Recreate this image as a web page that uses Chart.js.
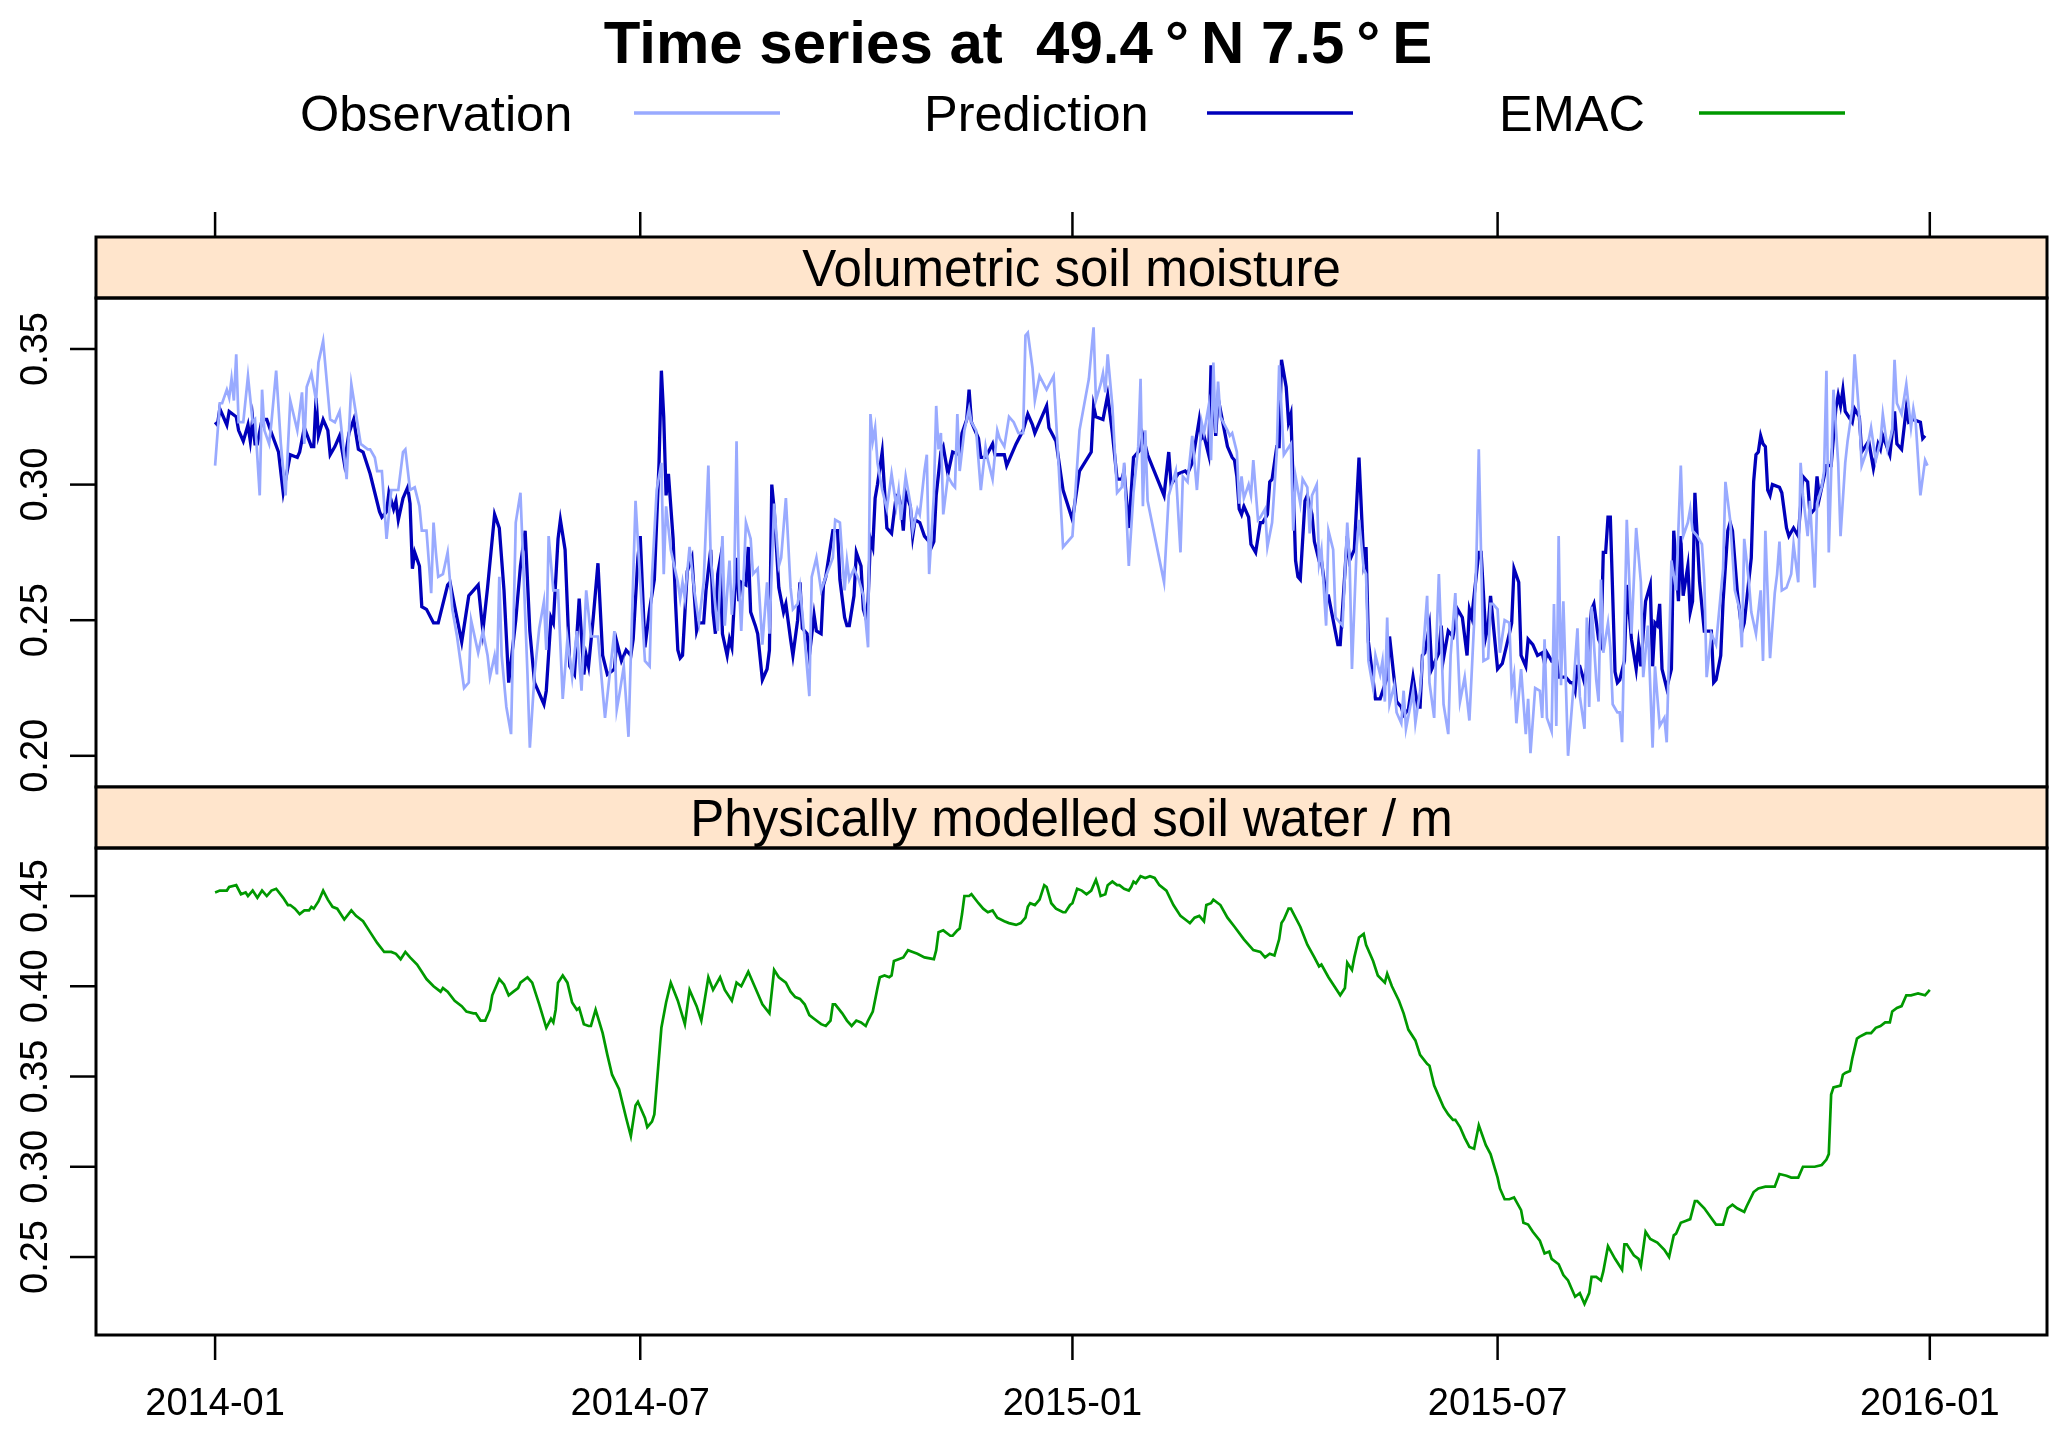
<!DOCTYPE html>
<html>
<head>
<meta charset="utf-8">
<title>Time series at 49.4°N 7.5°E</title>
<script src="https://cdn.jsdelivr.net/npm/chart.js@4.4.1/dist/chart.umd.min.js"></script>
<style>
  html, body { margin: 0; padding: 0; background: #fff; }
  #wrap { position: relative; width: 2067px; height: 1433px; }
  #wrap canvas { position: absolute; left: 0; top: 0; }
</style>
</head>
<body>
<div id="wrap">
  <canvas id="topPanel" width="2067" height="1433"></canvas>
  <canvas id="bottomPanel" width="2067" height="1433"></canvas>
</div>
<script>
// days since 2014-01-01
var xTickDays = [0, 181, 365, 546, 730];
var xTickLabels = ['2014-01', '2014-07', '2015-01', '2015-07', '2016-01'];
var topYTicks = [0.20, 0.25, 0.30, 0.35];
var bottomYTicks = [0.25, 0.30, 0.35, 0.40, 0.45];
var seriesNames = ['Observation', 'Prediction', 'EMAC'];
var panelTitles = ['Volumetric soil moisture', 'Physically modelled soil water / m'];
var mainTitle = 'Time series at  49.4\u2009°\u2009N 7.5\u2009°\u2009E';

// volumetric soil moisture, observed  [day, value]
var observation = [
  [0,0.307],[2,0.330],[3,0.330],[5,0.335],[6,0.332],[7,0.339],[8,0.331],[9,0.348],[10,0.323],[12,0.323],
  [14,0.340],[16,0.323],[17,0.324],[19,0.296],[20,0.335],[21,0.320],[23,0.315],[24,0.323],[26,0.342],[28,0.315],
  [30,0.296],[32,0.331],[35,0.320],[37,0.334],[38,0.315],[39,0.336],[41,0.341],[43,0.331],[44,0.345],[46,0.353],
  [49,0.324],[51,0.323],[53,0.327],[56,0.302],[58,0.337],[60,0.326],[62,0.315],[65,0.313],[66,0.313],[68,0.310],
  [69,0.305],[71,0.305],[73,0.280],[75,0.298],[76,0.298],[78,0.298],[80,0.312],[81,0.313],[83,0.298],[85,0.299],
  [87,0.292],[88,0.283],[90,0.283],[92,0.260],[93,0.286],[94,0.275],[95,0.266],[97,0.267],[99,0.275],[101,0.254],
  [103,0.244],[106,0.225],[108,0.227],[109,0.250],[112,0.238],[114,0.246],[116,0.237],[117,0.229],[119,0.237],[120,0.230],
  [121,0.266],[122,0.237],[124,0.218],[126,0.208],[128,0.286],[130,0.297],[133,0.230],[134,0.203],[136,0.230],[138,0.247],
  [140,0.257],[141,0.239],[142,0.281],[144,0.261],[146,0.261],[148,0.221],[150,0.243],[152,0.229],[154,0.246],[156,0.224],
  [158,0.261],[160,0.244],[163,0.244],[166,0.214],[170,0.246],[171,0.217],[172,0.222],[174,0.233],[176,0.207],[177,0.237],
  [179,0.294],[181,0.264],[183,0.235],[185,0.233],[186,0.266],[188,0.298],[190,0.308],[191,0.267],[192,0.292],[194,0.276],
  [197,0.264],[198,0.258],[199,0.264],[200,0.258],[202,0.277],[204,0.261],[206,0.249],[208,0.264],[210,0.307],[211,0.273],
  [214,0.246],[216,0.281],[217,0.248],[219,0.272],[220,0.252],[221,0.264],[222,0.316],[223,0.264],[224,0.246],[226,0.286],
  [228,0.280],[229,0.267],[231,0.269],[233,0.241],[235,0.264],[236,0.245],[238,0.293],[240,0.270],[241,0.273],[243,0.295],
  [245,0.262],[246,0.254],[248,0.256],[249,0.262],[251,0.243],[253,0.222],[254,0.266],[256,0.273],[258,0.261],[260,0.266],
  [263,0.273],[264,0.287],[266,0.286],[268,0.261],[269,0.272],[270,0.265],[272,0.269],[274,0.265],[276,0.259],[278,0.240],
  [279,0.326],[280,0.316],[281,0.321],[282,0.308],[284,0.298],[286,0.291],[288,0.304],[290,0.292],[291,0.298],[292,0.287],
  [294,0.303],[296,0.293],[297,0.283],[299,0.291],[300,0.289],[302,0.305],[303,0.311],[304,0.267],[306,0.296],[307,0.329],
  [308,0.313],[309,0.319],[310,0.289],[312,0.303],[314,0.300],[315,0.299],[316,0.326],[317,0.305],[319,0.320],[321,0.328],
  [322,0.323],[324,0.320],[326,0.298],[328,0.314],[329,0.309],[331,0.302],[333,0.320],[334,0.317],[336,0.314],[338,0.325],
  [340,0.323],[342,0.319],[344,0.319],[345,0.355],[346,0.356],[348,0.343],[349,0.331],[351,0.340],[354,0.335],[357,0.340],
  [359,0.309],[361,0.277],[365,0.281],[368,0.320],[372,0.339],[374,0.358],[375,0.331],[377,0.337],[378,0.341],[379,0.334],
  [380,0.348],[382,0.329],[384,0.297],[386,0.299],[387,0.308],[389,0.270],[391,0.297],[393,0.314],[394,0.339],[395,0.292],
  [396,0.320],[397,0.294],[404,0.264],[406,0.296],[409,0.305],[411,0.275],[412,0.303],[414,0.301],[416,0.318],[418,0.298],
  [420,0.323],[421,0.319],[423,0.329],[424,0.309],[425,0.345],[426,0.319],[427,0.338],[428,0.325],[431,0.320],[432,0.318],
  [433,0.319],[435,0.312],[436,0.293],[437,0.303],[438,0.295],[440,0.300],[441,0.296],[442,0.309],[444,0.287],[445,0.288],
  [447,0.291],[448,0.277],[450,0.286],[452,0.312],[453,0.344],[455,0.311],[458,0.315],[459,0.283],[460,0.303],[462,0.293],
  [463,0.302],[465,0.299],[466,0.282],[467,0.296],[469,0.300],[470,0.271],[471,0.276],[473,0.248],[474,0.283],[476,0.276],
  [477,0.251],[480,0.248],[482,0.286],[483,0.272],[484,0.232],[486,0.277],[487,0.287],[489,0.269],[490,0.267],[491,0.235],
  [493,0.225],[494,0.237],[496,0.230],[497,0.235],[498,0.220],[499,0.251],[500,0.219],[502,0.226],[503,0.216],[505,0.212],
  [506,0.224],[507,0.210],[509,0.219],[510,0.224],[511,0.212],[513,0.224],[514,0.235],[516,0.259],[517,0.227],[519,0.214],
  [520,0.243],[521,0.267],[523,0.219],[525,0.208],[526,0.237],[528,0.260],[530,0.220],[532,0.229],[534,0.213],[536,0.249],
  [537,0.273],[538,0.313],[539,0.273],[540,0.235],[542,0.236],[543,0.256],[544,0.256],[546,0.254],[547,0.238],[549,0.250],
  [551,0.249],[552,0.225],[553,0.230],[554,0.212],[556,0.232],[558,0.208],[559,0.221],[560,0.201],[562,0.225],[564,0.224],
  [565,0.214],[566,0.243],[567,0.214],[569,0.209],[570,0.256],[571,0.211],[572,0.281],[573,0.226],[574,0.257],[576,0.200],
  [578,0.222],[580,0.247],[581,0.222],[583,0.210],[584,0.251],[585,0.218],[586,0.255],[588,0.228],[589,0.220],[590,0.265],
  [591,0.238],[593,0.249],[594,0.240],[595,0.219],[597,0.216],[598,0.216],[599,0.205],[601,0.287],[603,0.245],[605,0.284],
  [607,0.264],[608,0.229],[610,0.248],[612,0.203],[613,0.233],[615,0.211],[617,0.214],[618,0.205],[620,0.272],[622,0.261],
  [624,0.307],[625,0.281],[627,0.286],[628,0.291],[629,0.283],[631,0.281],[633,0.278],[634,0.265],[635,0.229],[637,0.245],
  [639,0.241],[642,0.269],[643,0.301],[645,0.287],[647,0.261],[649,0.254],[650,0.240],[651,0.280],[653,0.264],[654,0.253],
  [656,0.245],[658,0.261],[659,0.235],[660,0.283],[662,0.236],[664,0.260],[665,0.267],[666,0.279],[667,0.261],[669,0.262],
  [671,0.267],[672,0.278],[674,0.264],[675,0.308],[676,0.296],[678,0.281],[679,0.294],[681,0.262],[682,0.293],[684,0.299],
  [685,0.305],[686,0.342],[687,0.275],[688,0.304],[689,0.335],[691,0.308],[692,0.281],[694,0.308],[695,0.316],[697,0.328],
  [698,0.348],[700,0.325],[701,0.307],[703,0.312],[705,0.321],[707,0.309],[709,0.316],[710,0.326],[712,0.313],[714,0.320],
  [715,0.346],[716,0.330],[718,0.326],[720,0.337],[722,0.321],[723,0.328],[724,0.323],[726,0.296],[728,0.309],[729,0.307]
];

// volumetric soil moisture, predicted  [day, value]
var prediction = [
  [0,0.323],[1,0.322],[2,0.328],[4,0.324],[5,0.322],[6,0.327],[9,0.325],[10,0.320],[12,0.316],[14,0.322],
  [15,0.316],[16,0.324],[17,0.315],[18,0.315],[20,0.324],[22,0.324],[24,0.319],[27,0.312],[29,0.297],[32,0.311],
  [35,0.310],[36,0.312],[38,0.321],[41,0.314],[42,0.314],[43,0.332],[44,0.318],[46,0.324],[48,0.320],[49,0.311],
  [51,0.314],[53,0.318],[55,0.308],[57,0.319],[59,0.324],[61,0.313],[63,0.312],[66,0.304],[68,0.297],[70,0.290],
  [71,0.288],[73,0.290],[74,0.297],[76,0.291],[77,0.294],[78,0.287],[80,0.295],[82,0.299],[83,0.293],[84,0.269],
  [85,0.275],[87,0.270],[88,0.255],[90,0.254],[93,0.249],[95,0.249],[99,0.263],[100,0.264],[102,0.255],[105,0.242],
  [108,0.259],[110,0.261],[112,0.263],[114,0.246],[116,0.262],[119,0.289],[121,0.284],[123,0.261],[125,0.227],[128,0.250],
  [130,0.270],[132,0.283],[134,0.246],[136,0.227],[140,0.219],[141,0.224],[143,0.251],[144,0.249],[146,0.280],[147,0.287],
  [149,0.276],[151,0.233],[153,0.230],[155,0.258],[157,0.230],[158,0.237],[159,0.233],[161,0.251],[163,0.271],[165,0.237],
  [167,0.230],[170,0.232],[171,0.242],[173,0.235],[175,0.239],[177,0.237],[178,0.243],[180,0.273],[181,0.281],[183,0.240],
  [185,0.254],[187,0.265],[189,0.308],[190,0.342],[191,0.325],[192,0.296],[193,0.304],[195,0.280],[196,0.257],[197,0.239],
  [198,0.236],[199,0.237],[201,0.268],[203,0.273],[205,0.246],[206,0.249],[208,0.249],[209,0.261],[211,0.276],[212,0.253],
  [213,0.245],[214,0.267],[215,0.272],[216,0.245],[218,0.237],[219,0.243],[220,0.240],[222,0.273],[223,0.257],[224,0.264],
  [226,0.263],[227,0.277],[228,0.253],[230,0.248],[231,0.245],[233,0.228],[235,0.232],[236,0.239],[237,0.300],[238,0.291],
  [240,0.262],[242,0.253],[243,0.256],[245,0.243],[246,0.237],[248,0.250],[249,0.264],[250,0.247],[252,0.245],[253,0.237],
  [255,0.252],[256,0.246],[258,0.245],[259,0.263],[260,0.266],[263,0.283],[265,0.283],[266,0.265],[268,0.251],[269,0.248],
  [270,0.248],[272,0.259],[273,0.275],[275,0.270],[276,0.254],[277,0.251],[278,0.257],[279,0.280],[280,0.277],[281,0.295],
  [282,0.300],[284,0.312],[286,0.284],[288,0.282],[290,0.296],[291,0.296],[292,0.292],[293,0.283],[294,0.297],[296,0.292],
  [297,0.281],[298,0.287],[300,0.286],[302,0.281],[304,0.279],[305,0.277],[306,0.279],[307,0.296],[309,0.312],[310,0.314],
  [312,0.304],[314,0.312],[317,0.311],[318,0.319],[320,0.324],[321,0.335],[322,0.323],[325,0.317],[326,0.310],[328,0.310],
  [331,0.315],[332,0.311],[334,0.311],[336,0.311],[337,0.307],[341,0.315],[344,0.320],[346,0.326],[348,0.322],[349,0.319],
  [351,0.323],[354,0.329],[355,0.321],[358,0.316],[361,0.298],[365,0.287],[368,0.305],[373,0.312],[374,0.329],[375,0.325],
  [378,0.324],[380,0.333],[382,0.319],[384,0.302],[386,0.302],[387,0.305],[389,0.284],[391,0.310],[394,0.313],[395,0.318],
  [397,0.311],[404,0.296],[406,0.312],[407,0.300],[410,0.304],[413,0.305],[414,0.304],[416,0.308],[419,0.324],[420,0.317],
  [421,0.318],[423,0.311],[424,0.344],[426,0.318],[427,0.332],[429,0.323],[431,0.314],[433,0.310],[434,0.309],[435,0.303],
  [436,0.291],[437,0.289],[438,0.292],[440,0.288],[441,0.278],[443,0.275],[445,0.286],[446,0.286],[448,0.289],[449,0.301],
  [450,0.302],[452,0.314],[453,0.314],[454,0.346],[456,0.336],[457,0.323],[458,0.326],[460,0.272],[461,0.266],[462,0.265],
  [464,0.294],[465,0.296],[467,0.289],[468,0.279],[470,0.272],[471,0.272],[473,0.259],[474,0.259],[478,0.241],[479,0.241],
  [482,0.281],[483,0.272],[485,0.276],[487,0.310],[489,0.272],[490,0.277],[491,0.242],[494,0.221],[496,0.221],[499,0.229],
  [500,0.244],[503,0.220],[505,0.218],[506,0.215],[508,0.217],[510,0.229],[512,0.218],[513,0.218],[514,0.237],[515,0.238],
  [517,0.248],[518,0.232],[521,0.238],[522,0.248],[523,0.236],[525,0.246],[527,0.244],[529,0.254],[531,0.251],[533,0.237],
  [534,0.254],[535,0.251],[538,0.275],[539,0.275],[541,0.244],[542,0.248],[543,0.259],[546,0.232],[548,0.234],[551,0.245],
  [552,0.249],[553,0.269],[555,0.264],[556,0.237],[558,0.233],[559,0.243],[561,0.241],[563,0.237],[565,0.238],[566,0.234],
  [567,0.238],[569,0.235],[571,0.236],[572,0.229],[575,0.229],[577,0.227],[578,0.227],[579,0.224],[580,0.233],[581,0.233],
  [583,0.227],[584,0.233],[586,0.254],[587,0.256],[589,0.243],[590,0.241],[591,0.275],[592,0.275],[593,0.288],[594,0.288],
  [596,0.231],[597,0.227],[598,0.228],[600,0.235],[601,0.263],[603,0.243],[605,0.232],[606,0.241],[607,0.233],[609,0.257],
  [611,0.263],[612,0.233],[613,0.249],[614,0.248],[615,0.256],[616,0.232],[618,0.225],[620,0.232],[621,0.283],[623,0.257],
  [624,0.281],[625,0.259],[627,0.270],[628,0.253],[629,0.257],[630,0.297],[632,0.264],[634,0.246],[637,0.246],[638,0.227],
  [639,0.228],[641,0.237],[642,0.257],[644,0.283],[645,0.286],[646,0.283],[648,0.261],[650,0.246],[651,0.249],[654,0.273],
  [655,0.301],[656,0.311],[657,0.312],[658,0.318],[659,0.315],[660,0.314],[661,0.298],[662,0.296],[663,0.300],[666,0.299],
  [667,0.297],[669,0.284],[670,0.281],[672,0.284],[674,0.281],[676,0.303],[678,0.301],[679,0.289],[681,0.291],[682,0.303],
  [683,0.295],[686,0.307],[688,0.307],[690,0.328],[691,0.333],[692,0.329],[693,0.335],[694,0.327],[697,0.323],[698,0.328],
  [700,0.325],[701,0.312],[704,0.316],[706,0.306],[708,0.315],[709,0.313],[710,0.318],[713,0.311],[715,0.327],[716,0.315],
  [718,0.313],[720,0.328],[721,0.323],[723,0.324],[726,0.323],[727,0.317],[728,0.318]
];

// EMAC physically modelled soil water / m  [day, value]
var emac = [
  [0,0.452],[2,0.453],[5,0.453],[6,0.455],[9,0.456],[11,0.451],[13,0.452],[14,0.450],[16,0.453],[18,0.449],
  [20,0.453],[22,0.450],[24,0.453],[26,0.454],[29,0.449],[31,0.445],[32,0.445],[34,0.443],[36,0.440],[38,0.442],
  [40,0.442],[41,0.444],[42,0.443],[44,0.447],[46,0.453],[48,0.448],[50,0.444],[52,0.443],[55,0.437],[58,0.442],
  [60,0.439],[63,0.436],[66,0.430],[69,0.424],[72,0.419],[75,0.419],[77,0.418],[79,0.415],[81,0.419],[83,0.416],
  [86,0.412],[88,0.408],[90,0.404],[93,0.400],[96,0.397],[97,0.399],[99,0.397],[102,0.392],[105,0.389],[107,0.386],
  [110,0.385],[111,0.385],[113,0.381],[115,0.381],[117,0.387],[118,0.395],[121,0.404],[123,0.401],[125,0.395],[127,0.397],
  [129,0.399],[130,0.402],[133,0.405],[135,0.402],[138,0.390],[141,0.377],[143,0.382],[144,0.380],[145,0.387],[146,0.402],
  [148,0.406],[150,0.402],[152,0.391],[154,0.387],[155,0.388],[157,0.379],[159,0.378],[160,0.378],[162,0.387],[165,0.374],
  [167,0.362],[169,0.351],[172,0.343],[175,0.327],[177,0.317],[179,0.334],[180,0.336],[183,0.327],[184,0.322],[186,0.325],
  [187,0.329],[190,0.377],[192,0.391],[194,0.402],[197,0.392],[200,0.379],[202,0.398],[205,0.389],[207,0.381],[210,0.405],
  [212,0.398],[215,0.405],[217,0.398],[220,0.392],[222,0.402],[224,0.400],[227,0.408],[230,0.399],[233,0.390],[236,0.385],
  [238,0.409],[240,0.405],[243,0.402],[245,0.397],[247,0.394],[249,0.393],[251,0.390],[253,0.384],[255,0.382],[258,0.379],
  [260,0.378],[262,0.381],[263,0.390],[264,0.390],[267,0.385],[269,0.381],[271,0.378],[273,0.381],[275,0.380],[277,0.378],
  [278,0.381],[280,0.386],[282,0.399],[283,0.405],[285,0.406],[287,0.405],[288,0.406],[289,0.414],[291,0.415],[293,0.416],
  [295,0.420],[297,0.419],[299,0.418],[302,0.416],[306,0.415],[307,0.420],[308,0.430],[310,0.431],[313,0.428],[314,0.428],
  [316,0.431],[317,0.432],[318,0.440],[319,0.450],[321,0.450],[322,0.451],[325,0.446],[327,0.443],[329,0.441],[331,0.442],
  [333,0.438],[336,0.436],[338,0.435],[341,0.434],[343,0.435],[345,0.438],[346,0.444],[347,0.446],[349,0.445],[351,0.448],
  [353,0.456],[354,0.455],[356,0.446],[358,0.443],[361,0.441],[362,0.441],[364,0.445],[365,0.446],[367,0.454],[369,0.453],
  [371,0.451],[373,0.453],[375,0.459],[376,0.455],[377,0.450],[379,0.451],[380,0.456],[382,0.458],[384,0.456],[385,0.456],
  [387,0.454],[389,0.453],[390,0.455],[391,0.458],[392,0.457],[394,0.461],[396,0.460],[398,0.461],[400,0.460],[402,0.456],
  [405,0.453],[408,0.445],[411,0.439],[414,0.436],[415,0.435],[417,0.438],[419,0.439],[421,0.436],[422,0.445],[424,0.446],
  [425,0.448],[428,0.445],[431,0.438],[434,0.433],[438,0.426],[442,0.420],[445,0.419],[447,0.416],[449,0.418],[451,0.417],
  [453,0.426],[454,0.435],[455,0.437],[457,0.443],[458,0.443],[462,0.433],[465,0.423],[468,0.416],[470,0.411],[471,0.412],
  [474,0.405],[479,0.395],[481,0.399],[482,0.413],[484,0.409],[485,0.416],[487,0.427],[489,0.429],[490,0.423],[493,0.414],
  [495,0.406],[498,0.402],[499,0.407],[501,0.400],[504,0.392],[506,0.385],[508,0.376],[511,0.370],[513,0.362],[516,0.357],
  [517,0.356],[519,0.345],[521,0.339],[523,0.333],[525,0.329],[527,0.326],[528,0.326],[530,0.322],[532,0.316],[534,0.311],
  [536,0.310],[538,0.323],[541,0.312],[543,0.307],[546,0.294],[547,0.288],[549,0.282],[551,0.282],[553,0.283],[556,0.276],
  [557,0.269],[559,0.268],[561,0.264],[564,0.259],[566,0.252],[568,0.253],[569,0.249],[572,0.246],[574,0.240],[576,0.237],
  [579,0.228],[581,0.230],[583,0.224],[585,0.230],[586,0.239],[588,0.239],[590,0.237],[591,0.242],[593,0.256],[596,0.249],
  [599,0.243],[600,0.257],[601,0.257],[604,0.251],[606,0.249],[607,0.245],[609,0.264],[611,0.260],[614,0.258],[617,0.254],
  [619,0.250],[621,0.262],[622,0.263],[624,0.269],[626,0.270],[628,0.271],[630,0.281],[631,0.281],[634,0.277],[639,0.268],
  [642,0.268],[644,0.277],[646,0.279],[648,0.277],[651,0.275],[652,0.278],[655,0.286],[657,0.288],[660,0.289],[664,0.289],
  [666,0.296],[669,0.295],[671,0.294],[674,0.294],[676,0.300],[679,0.300],[681,0.300],[684,0.301],[686,0.304],[687,0.307],
  [688,0.340],[689,0.344],[692,0.345],[693,0.351],[694,0.352],[696,0.353],[697,0.360],[699,0.371],[700,0.372],[703,0.374],
  [705,0.374],[707,0.377],[709,0.378],[711,0.380],[713,0.380],[714,0.386],[716,0.388],[718,0.389],[720,0.395],[722,0.395],
  [725,0.396],[728,0.395],[730,0.398]
];

var FONT = '"Liberation Sans", Arial, Helvetica, sans-serif';
var colObs = '#99AAFF';
var colPred = '#0000BB';
var colEmac = '#009900';
var stripFill = '#FFE5CC';

function toPoints(arr) {
  return arr.map(function (p) { return { x: p[0], y: p[1] }; });
}

function seg(ctx, x1, y1, x2, y2) {
  ctx.beginPath();
  ctx.moveTo(x1, y1);
  ctx.lineTo(x2, y2);
  ctx.stroke();
}

// lattice style panel: strip above, box, left ticks with rotated labels
function latticePanel(opt) {
  return {
    id: 'latticePanel',
    afterDraw: function (chart) {
      var ctx = chart.ctx, a = chart.chartArea;
      var xs = chart.scales.x, ys = chart.scales.y;
      var w = a.right - a.left;
      var stripH = 61;
      var st = a.top - stripH;
      ctx.save();

      // strip
      ctx.fillStyle = stripFill;
      ctx.fillRect(a.left, st, w, stripH);
      ctx.strokeStyle = '#000';
      ctx.lineWidth = 3;
      ctx.strokeRect(a.left, st, w, stripH);
      ctx.fillStyle = '#000';
      ctx.font = '51px ' + FONT;
      ctx.textAlign = 'center';
      ctx.textBaseline = 'alphabetic';
      ctx.fillText(opt.strip, (a.left + a.right) / 2, st + stripH / 2 + 18.5);

      // panel box
      ctx.strokeRect(a.left, a.top, w, a.bottom - a.top);

      // y ticks + vertical labels
      ctx.lineWidth = 2.5;
      ctx.font = '38px ' + FONT;
      opt.yTicks.forEach(function (v) {
        var y = ys.getPixelForValue(v);
        seg(ctx, a.left - 26, y, a.left, y);
        ctx.save();
        ctx.translate(a.left - 49, y);
        ctx.rotate(-Math.PI / 2);
        ctx.textAlign = 'center';
        ctx.fillText(v.toFixed(2), 0, 0);
        ctx.restore();
      });

      // ticks above the top strip
      if (opt.topTicks) {
        xTickDays.forEach(function (d) {
          var x = xs.getPixelForValue(d);
          seg(ctx, x, st - 25, x, st);
        });
      }

      // bottom ticks and labels
      if (opt.bottomAxis) {
        ctx.textAlign = 'center';
        xTickDays.forEach(function (d, i) {
          var x = xs.getPixelForValue(d);
          seg(ctx, x, a.bottom, x, a.bottom + 25);
          ctx.fillText(xTickLabels[i], x, a.bottom + 80);
        });
      }

      // main title and key
      if (opt.header) {
        ctx.font = 'bold 60px ' + FONT;
        ctx.textAlign = 'center';
        ctx.fillText(mainTitle, 1018, 63);
        ctx.font = '50.5px ' + FONT;
        ctx.textAlign = 'left';
        var keyX = [300, 924, 1499];
        var lineX = [634, 1207, 1699];
        var cols = [colObs, colPred, colEmac];
        seriesNames.forEach(function (n, i) {
          ctx.fillStyle = '#000';
          ctx.fillText(n, keyX[i], 131);
          ctx.strokeStyle = cols[i];
          ctx.lineWidth = 3.5;
          seg(ctx, lineX[i], 113, lineX[i] + 146, 113);
        });
      }
      ctx.restore();
    }
  };
}

function baseOptions(pad, ymin, ymax) {
  return {
    responsive: false,
    animation: false,
    events: [],
    layout: { padding: pad },
    plugins: { legend: { display: false }, title: { display: false }, tooltip: { enabled: false } },
    elements: { point: { radius: 0 }, line: { tension: 0 } },
    scales: {
      x: { type: 'linear', min: -50.7, max: 779.9, display: false },
      y: { type: 'linear', min: ymin, max: ymax, display: false }
    }
  };
}

new Chart(document.getElementById('topPanel'), {
  type: 'line',
  data: {
    datasets: [
      { label: seriesNames[0], data: toPoints(observation), borderColor: colObs, borderWidth: 2.7, fill: false },
      { label: seriesNames[1], data: toPoints(prediction), borderColor: colPred, borderWidth: 3.3, fill: false }
    ]
  },
  options: baseOptions({ left: 96, right: 20, top: 298, bottom: 646 }, 0.1885, 0.3688),
  plugins: [latticePanel({ strip: panelTitles[0], yTicks: topYTicks, topTicks: true, header: true })]
});

new Chart(document.getElementById('bottomPanel'), {
  type: 'line',
  data: {
    datasets: [
      { label: seriesNames[2], data: toPoints(emac), borderColor: colEmac, borderWidth: 2.7, fill: false }
    ]
  },
  options: baseOptions({ left: 96, right: 20, top: 848, bottom: 98 }, 0.2068, 0.4766),
  plugins: [latticePanel({ strip: panelTitles[1], yTicks: bottomYTicks, bottomAxis: true })]
});
</script>
</body>
</html>
